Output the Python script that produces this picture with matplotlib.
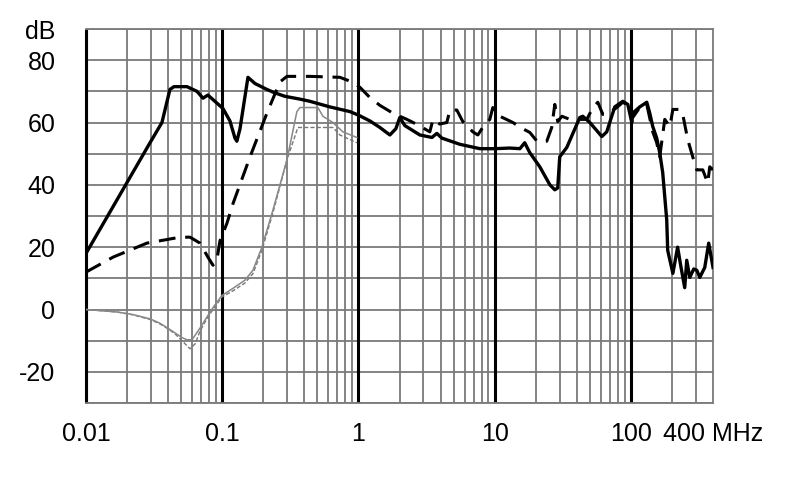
import matplotlib
matplotlib.use("Agg")
import matplotlib.pyplot as plt

plt.rcParams['font.family'] = ['Liberation Sans', 'DejaVu Sans']

# Frequencies in MHz, levels in dB
a_f = [0.01, 0.0295, 0.0361, 0.0413, 0.0442, 0.0551, 0.0652, 0.0722, 0.0785, 0.0899,
       0.1012, 0.1139, 0.124, 0.128, 0.135, 0.1544, 0.174, 0.2128, 0.2436, 0.2884,
       0.3717, 0.44, 0.6169, 0.865, 1.007, 1.213, 1.436, 1.70, 1.88, 2.01, 2.19, 2.82,
       3.46, 3.76, 4.09, 5.55, 7.78, 10, 12.9, 15.3, 16.6, 18.1, 21.4, 25.4, 27.6, 29.0,
       30.0, 33.8, 42.1, 44.3, 49.9, 61.1, 66.4, 76.0, 87.1, 94.8, 101.4, 103, 116,
       130.6, 137.4, 144.5, 154.5, 162.6, 171, 183, 186, 203, 220, 232, 248, 256.6,
       270, 289, 304, 320, 348, 372, 400]
a_db = [18, 53.5, 60, 70.6, 71.5, 71.5, 70, 67.8, 68.8, 66.5,
        64.5, 60.5, 55, 54, 58, 74.5, 72.5, 70.6, 69.5, 68.4,
        67.5, 66.8, 65, 63.5, 62.3, 60.5, 58.4, 56, 58, 61.6, 59, 56,
        55.2, 56.5, 55, 53, 51.6, 51.6, 51.8, 51.6, 53.5, 50.3, 45.8, 40, 38.4, 39,
        49, 52, 61.6, 62, 60, 55.5, 57, 65, 66.8, 65.8, 60, 63, 65,
        66.5, 63, 58.7, 55, 50.3, 43.9, 28.7, 19, 11.6, 20, 14, 7, 15.8,
        10.3, 13, 12.6, 10.3, 13.5, 21.3, 13.5]

b_f = [0.01, 0.0158, 0.028, 0.049, 0.058, 0.0686, 0.0785, 0.0855, 0.0914, 0.0962,
       0.1083, 0.12, 0.16, 0.2128, 0.265, 0.2984, 0.44, 0.73, 0.91, 1.024, 1.213,
       1.436, 1.787, 2.265, 2.68, 3.34, 3.52, 3.95, 4.45, 4.69, 5.27, 5.83, 6.9,
       7.52, 8.18, 9.2, 9.68, 10.9, 13.6, 15.3, 18.1, 20.4, 24.1, 26.2, 27.6, 29.0,
       31.1, 35.6, 47.4, 52.5, 57.1, 62.1, 66.4, 78.7, 87.1, 98, 103, 116, 130.6,
       144.5, 154.5, 162.6, 177, 193, 203, 227.5, 240, 261, 284, 304, 336.5, 366,
       378.5, 400]
b_db = [12, 16.8, 21.3, 23.2, 23.2, 21.3, 16.8, 14.2, 16, 22,
        27.7, 34, 49, 63, 73, 74.8, 74.8, 74.5, 72.9, 71.3, 68,
        65.5, 63, 61, 59.4, 57, 61, 59.5, 60, 64, 64, 60.3, 57,
        56, 58.5, 61, 64.8, 62, 60, 58.5, 56.8, 54, 54, 58.4, 65.8, 60.3,
        62, 61, 61, 64.8, 66.5, 62.6, 62.6, 64.8, 66.5, 65.2, 61.6, 64.8, 65.8,
        57, 53.5, 49, 61, 58.7, 64.2, 64.2, 62.6, 54.5, 49, 44.8, 44.8, 40.6,
        45.8, 44.8]

c_f = [0.01, 0.0169, 0.022, 0.0295, 0.0345, 0.0393, 0.045, 0.0506, 0.0551, 0.06,
       0.0686, 0.077, 0.0855, 0.0995, 0.12, 0.1467, 0.168, 0.1955, 0.2355, 0.2984,
       0.353, 0.3717, 0.5036, 0.548, 0.649, 0.768, 0.973]
c_db = [0, -0.8, -1.6, -3, -4.3, -5.8, -7.5, -9, -9.7, -9.7,
        -6, -2.5, 0.6, 4.5, 6.8, 9.4, 12.6, 20, 31.9, 48,
        63.5, 64.8, 64.8, 62, 60, 57, 55.2]

d_f = [0.01, 0.0169, 0.022, 0.0295, 0.0345, 0.0393, 0.045, 0.0506, 0.058, 0.0633,
       0.0686, 0.077, 0.0855, 0.0995, 0.12, 0.1467, 0.168, 0.1955, 0.2355, 0.2984,
       0.359, 0.649, 0.73, 0.973]
d_db = [0, -0.8, -1.7, -3.2, -4.5, -6, -7.8, -10, -12.6, -11,
        -7, -3, 0, 4, 6, 8.5, 11.5, 19, 31, 48,
        58.4, 58.4, 56, 53.5]

x_ticks = [0.01, 0.1, 1, 10, 100, 400]
x_labels = ['0.01', '0.1', '1', '10', '100', '400 MHz']
y_ticks = [-30, -20, -10, 0, 10, 20, 30, 40, 50, 60, 70, 80, 90]
y_labels = ['', '-20', '', '0', '', '20', '', '40', '', '60', '', '80', 'dB']

fig = plt.figure(figsize=(7.90, 4.99), dpi=100)
ax = fig.add_axes([86/790, 1-403/499, (713-86)/790, (403-29)/499])
ax.set_xscale('log')
ax.set_xlim(0.01, 400)
ax.set_ylim(-30, 90)

grid_gray = '#7a7a7a'
decades = [0.01, 0.1, 1, 10, 100]
for d in decades:
    for m in range(2, 10):
        v = d * m
        if v < 400:
            ax.axvline(v, color=grid_gray, lw=1.3, zorder=1)
    ax.axvline(d, color='black', lw=2.2, zorder=1.5, solid_capstyle='butt')
for yv in y_ticks:
    ax.axhline(yv, color=grid_gray, lw=1.3, zorder=1)

ax.plot(d_f, d_db, color='#777777', lw=1.0, ls=(0, (3, 1.5)), zorder=3)
ax.plot(c_f, c_db, color='#888888', lw=1.1, zorder=3)
ax.plot(b_f, b_db, color='black', lw=2.2, ls=(0, (5.5, 3.2)), zorder=4)
ax.plot(a_f, a_db, color='black', lw=2.4, zorder=5)

ax.set_xticks(x_ticks)
ax.set_xticklabels(x_labels)
ax.xaxis.set_minor_locator(matplotlib.ticker.NullLocator())
ax.set_yticks(y_ticks)
ax.set_yticklabels(y_labels)
ax.tick_params(axis='both', which='both', length=0, labelsize=18)
ax.tick_params(axis='x', pad=14)
ax.tick_params(axis='y', pad=22)

for s in ['top', 'right', 'bottom']:
    ax.spines[s].set_color(grid_gray)
    ax.spines[s].set_linewidth(1.3)
ax.spines['left'].set_color('black')
ax.spines['left'].set_linewidth(2.2)
ax.spines['left'].set_capstyle('butt')

fig.savefig('out.png', dpi=100, facecolor='white')
